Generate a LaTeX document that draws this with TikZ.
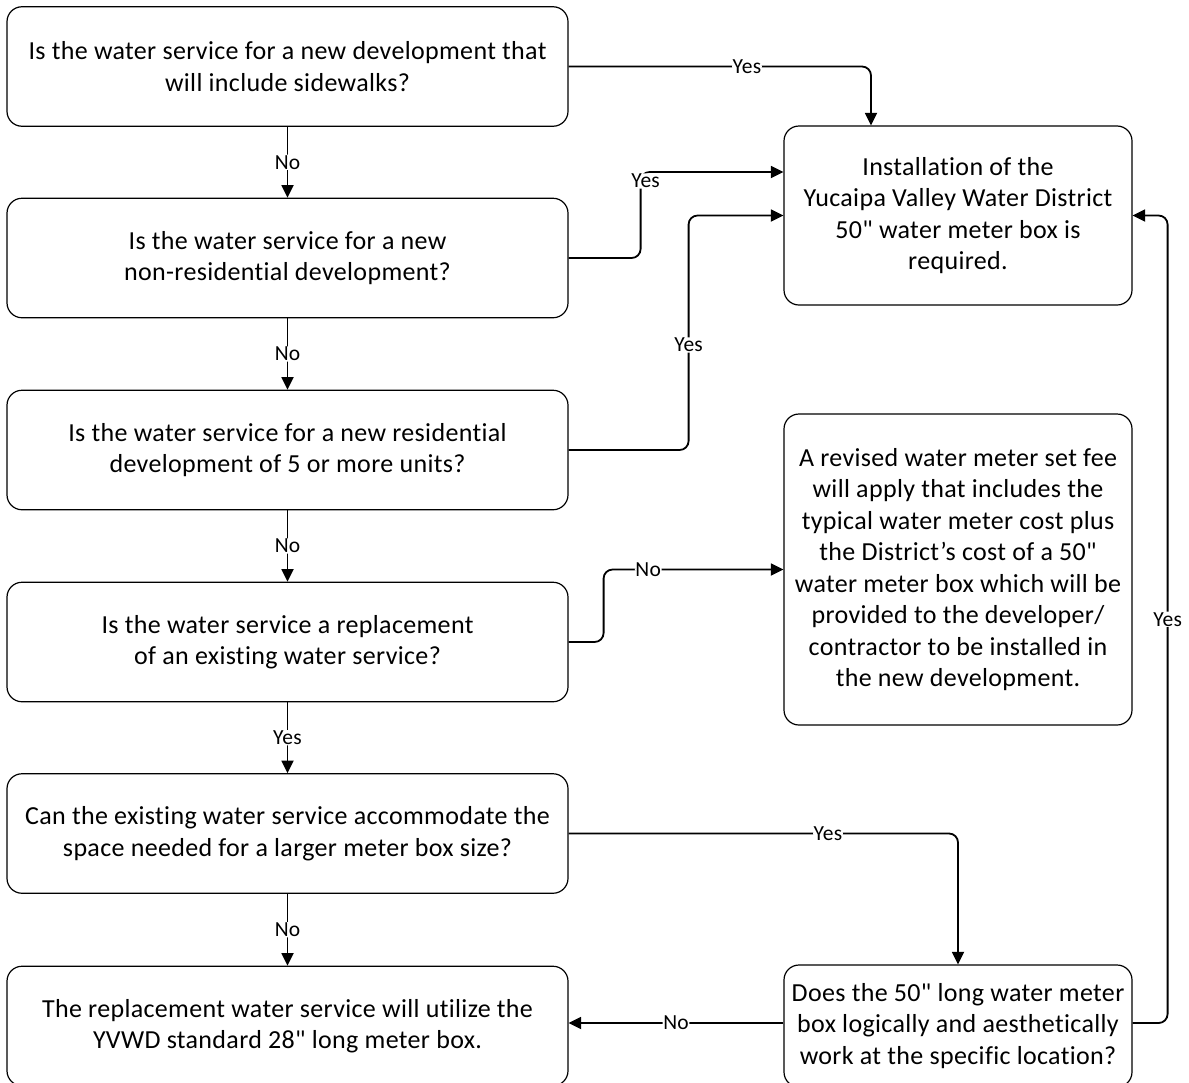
\documentclass[tikz,border=0pt]{standalone}
\usepackage{fontspec}
\setmainfont{Carlito}[Ligatures={NoCommon,TeXOff},LetterSpace=1.3]
\usetikzlibrary{arrows.meta}
\begin{document}
\begin{tikzpicture}[x=1pt,y=-1pt,
  box/.style={draw=black,line width=1.2pt,rounded corners=15pt,align=center,
    font=\fontsize{26}{31.5}\selectfont,inner sep=0pt},
  lbox/.style={box,minimum width=561pt,minimum height=119.5pt},
  rbox/.style={box,minimum width=348pt},
  conn/.style={line width=1.8pt,rounded corners=9pt,-{Triangle[length=12.5pt,width=12pt]}},
  lbl/.style={fill=white,inner sep=0.6pt,font=\fontsize{21.5}{24}\selectfont}]
\useasboundingbox (0,0) rectangle (1189,1082);
\clip (0,0) rectangle (1189,1082);
% left column
\node[lbox] (b1) at (287.5,66.5) {Is the water service for a new development that\\will include sidewalks?};
\node[lbox] (b2) at (287.5,258) {Is the water service for a new\\non-residential development?};
\node[lbox] (b3) at (287.5,450) {Is the water service for a new residential\\development of 5 or more units?};
\node[lbox] (b4) at (287.5,642) {Is the water service a replacement\\of an existing water service?};
\node[lbox] (b5) at (287.5,833.5) {Can the existing water service accommodate the\\space needed for a larger meter box size?};
\node[lbox] (b6) at (287.5,1026) {The replacement water service will utilize the\\YVWD standard 28" long meter box.};
% right column
\node[rbox,minimum height=179pt] (r1) at (958,215.5) {Installation of the\\Yucaipa Valley Water District\\50" water meter box is\\required.};
\node[rbox,minimum height=311pt] (r2) at (958,569.5) {A revised water meter set fee\\will apply that includes the\\typical water meter cost plus\\the District’s cost of a 50"\\water meter box which will be\\provided to the developer/\\contractor to be installed in\\the new development.};
\node[rbox,minimum height=122pt] (r3) at (958,1026) {Does the 50" long water meter\\box logically and aesthetically\\work at the specific location?};
% vertical connectors
\draw[conn] (b1.south) -- node[lbl]{No} (b2.north);
\draw[conn] (b2.south) -- node[lbl]{No} (b3.north);
\draw[conn] (b3.south) -- node[lbl]{No} (b4.north);
\draw[conn] (b4.south) -- node[lbl]{Yes} (b5.north);
\draw[conn] (b5.south) -- node[lbl]{No} (b6.north);
% to the right
\draw[conn] (b1.east) -| node[lbl,pos=0.295]{Yes} ([xshift=-87pt]r1.north);
\draw[conn] (b2.east) -- ++(72,0) |- node[lbl,pos=0.5,xshift=5pt,yshift=-9pt]{Yes} ([yshift=43.5pt]r1.west);
\draw[conn] (b3.east) -- ++(120,0) |- node[lbl,pos=0.224]{Yes} (r1.west);
\draw[conn] (b4.east) -- ++(35,0) |- node[lbl,pos=0.624]{No} (r2.west);
\draw[conn] (b5.east) -| node[lbl,pos=0.333]{Yes} (r3.north);
\draw[conn] ([yshift=3pt]r3.west) -- node[lbl]{No} ([yshift=3pt]b6.east);
\draw[conn] ([yshift=3pt]r3.east) -- ++(35,0) |- node[lbl,pos=0.25]{Yes} (r1.east);
\end{tikzpicture}
\end{document}
